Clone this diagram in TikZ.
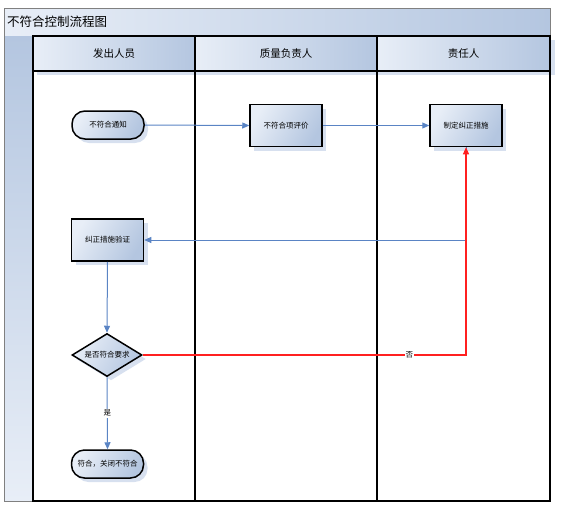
\documentclass[tikz,border=0pt]{standalone}
\usepackage{fontspec}
\setmainfont{Noto Sans CJK SC}
\usetikzlibrary{arrows.meta,shapes.geometric,shadows}
\definecolor{gl}{HTML}{E8EEF7}
\definecolor{gd}{HTML}{B4C6E0}
\definecolor{sh}{HTML}{D7E0EF}
\definecolor{cb}{HTML}{5A84C4}
\definecolor{cr}{HTML}{FF2020}
\tikzset{
  shp/.style={draw=black, line width=1.5pt, top color=gl, bottom color=gd, shading angle=60,
    drop shadow={fill=sh, opacity=1, shadow xshift=4pt, shadow yshift=-4pt},
    font=\fontsize{7.5}{8}\selectfont, inner sep=1pt},
  term/.style={shp, rectangle, rounded corners=13pt, minimum width=72pt, minimum height=28pt},
  proc/.style={shp, rectangle, minimum width=72pt, minimum height=42pt},
  dec/.style={shp, diamond, aspect=1.63, minimum width=70pt, minimum height=43pt, inner sep=0pt},
  bline/.style={draw=cb, line width=1pt, -{Triangle[length=7pt,width=6pt]}},
  rline/.style={draw=cr, line width=1.1pt, -{Triangle[length=7pt,width=6pt]}},
  lbl/.style={fill=white, inner sep=1pt, font=\fontsize{7.5}{8}\selectfont},
  hdr/.style={font=\fontsize{10.5}{11}\selectfont},
  lane/.style={line width=1.7pt, draw=black}
}
\begin{document}
\begin{tikzpicture}[x=1pt,y=-1pt]
\useasboundingbox (0,0) rectangle (561,514);
% title bar
\shade[left color=gl, right color=gd] (4.5,8) rectangle (550,36);
\draw[gray, line width=0.6pt] (4.5,8) rectangle (550,36);
\node[anchor=west, font=\fontsize{12.5}{13}\selectfont, inner sep=0pt] (ttl) at (7,21.5) {不符合控制流程图};
% left strip
\shade[top color=gd, bottom color=gl] (4.5,36) rectangle (33,501);
\draw[gray, line width=0.6pt] (4.5,36) -- (4.5,501) -- (33,501);
% header shadows
\fill[sh] (37,71) rectangle (555,75);
\fill[sh] (550,40) rectangle (555,75);
% header cells
\shade[left color=gl, right color=gd] (33,36) rectangle (195,71);
\shade[left color=gl, right color=gd] (195,36) rectangle (377,71);
\shade[left color=gl, right color=gd] (377,36) rectangle (550,71);
% lane lines
\draw[lane] (33,36) rectangle (550,501);
\draw[lane] (33,71) -- (550,71);
\draw[lane] (195,36) -- (195,501);
\draw[lane] (377,36) -- (377,501);
% header texts
\node[hdr] (h1) at (114,53.5) {发出人员};
\node[hdr] (h2) at (286,53.5) {质量负责人};
\node[hdr] (h3) at (463.5,53.5) {责任人};
% nodes
\node[term] (n1) at (108,125) {不符合通知};
\node[proc] (n2) at (286,125.5) {不符合项评价};
\node[proc] (n3) at (466,125.5) {制定纠正措施};
\node[proc] (n4) at (107.5,240) {纠正措施验证};
\node[dec] (n5) at (107,355) {是否符合要求};
\node[term] (n6) at (107.5,464) {符合，关闭不符合};
% connectors
\draw[bline] (n1.east) -- (n2.west);
\draw[bline] (n2.east) -- (n3.west);
\draw[bline] (n3.south) |- (n4.east);
\draw[bline] (n4.south) -- (n5.north);
\draw[bline] (n5.south) -- node[lbl] (yes) {是} (n6.north);
\draw[rline] (n5.east) -- node[lbl, pos=0.825] (no) {否} (n5.east -| n3.south) -- (n3.south);
\end{tikzpicture}
\end{document}
